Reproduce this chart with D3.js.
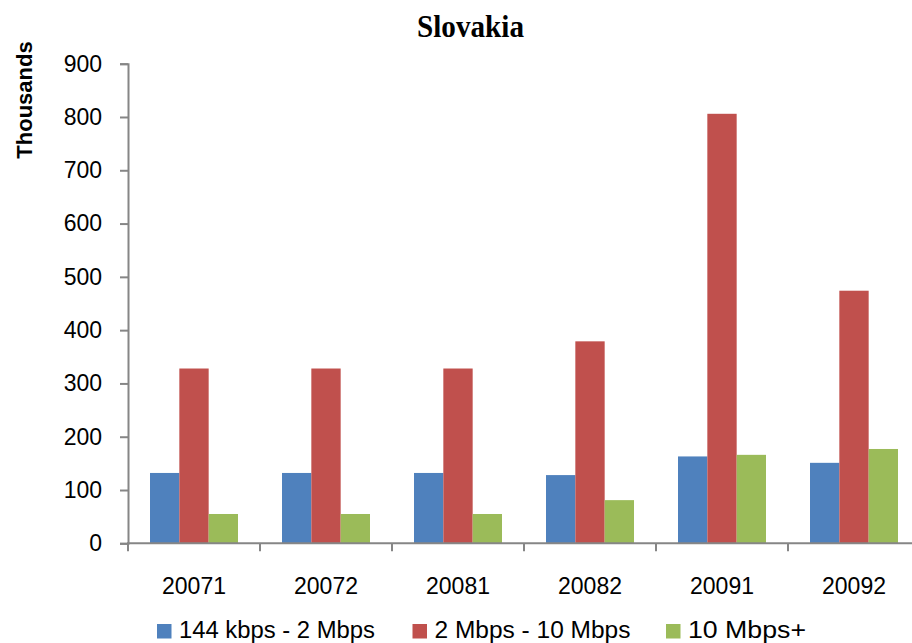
<!DOCTYPE html>
<html>
<head>
<meta charset="utf-8">
<script src="https://cdn.jsdelivr.net/npm/d3@7"></script>
<style>
  body { margin: 0; background: #fff; }
  svg { display: block; }
</style>
</head>
<body>
<div id="chart"></div>
<script>
var periods = ["20071", "20072", "20081", "20082", "20091", "20092"];
var seriesNames = ["144 kbps - 2 Mbps", "2 Mbps - 10 Mbps", "10 Mbps+"];
var lowSpeed = [132, 132, 132, 128, 163, 151];
var midSpeed = [328, 328, 328, 379, 806, 474];
var highSpeed = [55, 55, 55, 81, 166, 177];
var yTicks = [0, 100, 200, 300, 400, 500, 600, 700, 800, 900];
var colors = ["#4F81BD", "#C0504D", "#9BBB59"];

var svgWidth = 912;
var svgHeight = 643;

var svg = d3.select("#chart")
  .append("svg")
  .attr("width", svgWidth)
  .attr("height", svgHeight);

var rows = periods.map(function(p, i) {
  return { period: p, values: [lowSpeed[i], midSpeed[i], highSpeed[i]] };
});

var x0 = d3.scaleBand()
  .domain(periods)
  .range([128, 920])
  .padding(0);

var x1 = d3.scaleBand()
  .domain(d3.range(seriesNames.length))
  .range([0, x0.bandwidth()])
  .paddingInner(0)
  .paddingOuter(0.75);

var y = d3.scaleLinear()
  .domain([0, 900])
  .range([543.3, 63.7]);

var axisColor = "#868686";

// bars
var groups = svg.append("g")
  .selectAll("g")
  .data(rows)
  .enter()
  .append("g")
  .attr("transform", d => `translate(${x0(d.period)},0)`);

groups.selectAll("rect")
  .data(d => d.values.map((v, k) => ({ k: k, v: v })))
  .enter()
  .append("rect")
  .attr("x", d => x1(d.k))
  .attr("width", x1.bandwidth())
  .attr("y", d => y(d.v))
  .attr("height", d => y(0) - y(d.v))
  .attr("fill", d => colors[d.k]);

// y axis
var leftAxis = d3.axisLeft(y)
  .tickValues(yTicks)
  .tickSize(8)
  .tickPadding(18);

var gy = svg.append("g")
  .attr("transform", "translate(128,0)")
  .call(leftAxis);
gy.select(".domain").attr("stroke", axisColor).attr("stroke-width", 2);
gy.selectAll(".tick line").attr("stroke", axisColor).attr("stroke-width", 2);
gy.selectAll(".tick text")
  .attr("fill", "#000")
  .attr("font-family", "Liberation Sans, Arial, sans-serif")
  .attr("font-size", "23px");

// x axis line
svg.append("line")
  .attr("x1", 127).attr("x2", 920)
  .attr("y1", y(0)).attr("y2", y(0))
  .attr("stroke", axisColor)
  .attr("stroke-width", 2);

// x tick marks at category boundaries
svg.append("g")
  .selectAll("line")
  .data(periods)
  .enter()
  .append("line")
  .attr("x1", d => x0(d)).attr("x2", d => x0(d))
  .attr("y1", y(0)).attr("y2", y(0) + 8)
  .attr("stroke", axisColor)
  .attr("stroke-width", 2);

// x labels
var bottomAxis = d3.axisBottom(x0).tickSize(0).tickPadding(34);
var gx = svg.append("g")
  .attr("transform", `translate(0,${y(0)})`)
  .call(bottomAxis);
gx.select(".domain").remove();
gx.selectAll(".tick text")
  .attr("fill", "#000")
  .attr("font-family", "Liberation Sans, Arial, sans-serif")
  .attr("font-size", "23px");

// title
svg.append("text")
  .attr("x", 470.5)
  .attr("y", 36.7)
  .attr("text-anchor", "middle")
  .attr("font-family", "Liberation Serif, Times New Roman, serif")
  .attr("font-weight", "bold")
  .attr("font-size", "31px")
  .attr("textLength", 107)
  .attr("lengthAdjust", "spacingAndGlyphs")
  .text("Slovakia");

// y label
svg.append("text")
  .attr("transform", "translate(32,100) rotate(-90)")
  .attr("text-anchor", "middle")
  .attr("font-family", "Liberation Sans, Arial, sans-serif")
  .attr("font-weight", "bold")
  .attr("font-size", "22px")
  .text("Thousands");

// legend
var legendX = [157, 412.5, 666];
var legendW = [196, 196, 118];
var legend = svg.append("g")
  .selectAll("g")
  .data(seriesNames)
  .enter()
  .append("g")
  .attr("transform", (d, i) => `translate(${legendX[i]},624)`);

legend.append("rect")
  .attr("width", 14.5)
  .attr("height", 14.5)
  .attr("fill", (d, i) => colors[i]);

legend.append("text")
  .attr("x", 22)
  .attr("y", 14)
  .attr("font-family", "Liberation Sans, Arial, sans-serif")
  .attr("font-size", "23px")
  .attr("textLength", (d, i) => legendW[i])
  .attr("lengthAdjust", "spacingAndGlyphs")
  .text(d => d);
</script>
</body>
</html>
